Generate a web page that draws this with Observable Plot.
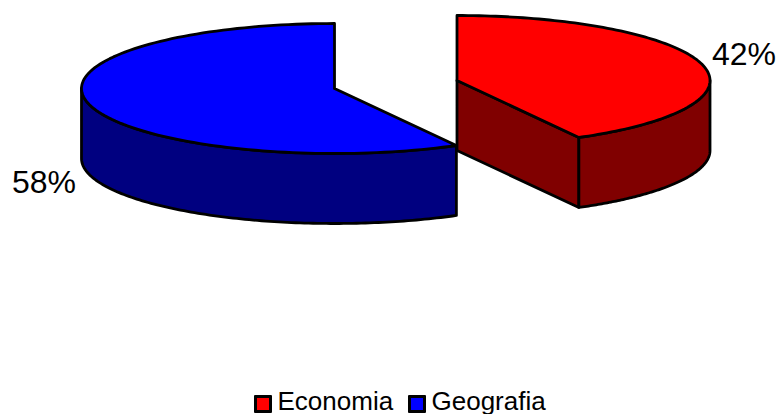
<!DOCTYPE html>
<html><head><meta charset="utf-8">
<script src="https://cdn.jsdelivr.net/npm/d3@7"></script>
<script src="https://cdn.jsdelivr.net/npm/@observablehq/plot@0.6"></script>
<style>
html,body{margin:0;padding:0;background:#fff;overflow:hidden}
svg{display:block}
#legend{position:relative;height:29px;font:26px/29px "Liberation Sans",Arial,sans-serif;color:#000;white-space:nowrap}
#legend span{position:absolute}
#legend .sw{box-sizing:border-box;width:18px;height:18px;border:3px solid #000;border-radius:1px;top:10px}
#legend .tx{top:2px}
</style></head><body>
<div id="chart"></div><div id="legend"></div>
<script>
const categories = ["Economia", "Geografia"];
const shares = [42, 58];
const topColors = ["#ff0000", "#0000ff"];
const sideColors = ["#800000", "#000080"];

// layout of the exploded pie
const rx = 253, ry = 65, depth = 70, W = 779, H = 385, lineW = 2.8;
const centers = [[456.5, 80], [334, 88]];
const labelPos = [[711.5, 64], [11.5, 192]];
const legendPos = [[254, 277.5], [408, 431.5]];

const total = d3.sum(shares);
const cum = d3.cumsum(shares).map(v => v / total * 360);
const startDeg = [0, cum[0]], endDeg = [cum[0], cum[1]];
const rad = d => d * Math.PI / 180;
const pt = (c, a, dz = 0) => [c[0] + rx * Math.sin(rad(a)), c[1] - ry * Math.cos(rad(a)) + dz];
const arc = (c, a0, a1, dz = 0) => d3.range(0, 121).map(i => pt(c, a0 + (a1 - a0) * i / 120, dz));
const shape = (pts, fill) => Plot.line([...pts, pts[0]], {x: d => d[0], y: d => d[1], fill, stroke: "#000", strokeWidth: lineW, strokeLinejoin: "round", curve: "linear"});

const marks = [];
categories.forEach((cat, i) => {
  const c = centers[i], a0 = startDeg[i], a1 = endDeg[i];
  const wall0 = Math.max(a0, 90), wall1 = Math.min(a1, 270);
  // flat cut face (only visible on the slice whose cut faces the viewer)
  if (a1 < 180) {
    const e = pt(c, a1), e2 = pt(c, a1, depth);
    marks.push(shape([c, e, e2, [c[0], c[1] + depth]], sideColors[i]));
  }
  // outer wall
  marks.push(shape([...arc(c, wall0, wall1), ...arc(c, wall1, wall0, depth)], sideColors[i]));
  // top face
  marks.push(shape([c, ...arc(c, a0, a1)], topColors[i]));
});
marks.push(Plot.text(categories.map((_, i) => i), {
  x: i => labelPos[i][0], y: i => labelPos[i][1],
  text: i => shares[i] + "%", textAnchor: "start", lineAnchor: "bottom",
  fontSize: 32, fontFamily: "Liberation Sans", fill: "#000"
}));

const plot = Plot.plot({
  width: W, height: H, margin: 0, style: {background: "#fff"},
  x: {type: "identity", axis: null}, y: {type: "identity", axis: null},
  marks
});
document.getElementById("chart").append(plot);

const lg = document.getElementById("legend");
categories.forEach((cat, i) => {
  const s = document.createElement("span"); s.className = "sw";
  s.style.left = legendPos[i][0] + "px"; s.style.background = topColors[i];
  const t = document.createElement("span"); t.className = "tx";
  t.style.left = legendPos[i][1] + "px"; t.textContent = cat;
  lg.append(s, t);
});
</script></body></html>
